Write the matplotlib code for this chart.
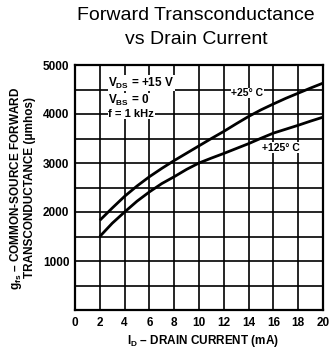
import matplotlib
matplotlib.use("Agg")
import matplotlib.pyplot as plt
import numpy as np

plt.rcParams['font.family'] = ['Liberation Sans', 'DejaVu Sans']
plt.rcParams['mathtext.fontset'] = 'custom'
plt.rcParams['mathtext.rm'] = 'Liberation Sans:bold'
plt.rcParams['mathtext.it'] = 'Liberation Sans:bold'
plt.rcParams['mathtext.bf'] = 'Liberation Sans:bold'

# Data
drain_current_ma = [2, 3, 4, 5, 6, 7, 8, 9, 10, 11, 12, 13, 14, 15, 16, 17, 18, 19, 20]
gfs_25c = [1830, 2080, 2320, 2530, 2720, 2890, 3050, 3200, 3350, 3500, 3645,
           3800, 3950, 4085, 4205, 4320, 4425, 4530, 4630]
gfs_125c = [1500, 1770, 2000, 2220, 2410, 2580, 2720, 2870, 3000, 3100, 3195,
            3295, 3395, 3505, 3610, 3690, 3770, 3855, 3935]
x_ticks = [0, 2, 4, 6, 8, 10, 12, 14, 16, 18, 20]
y_ticks = [1000, 2000, 3000, 4000, 5000]
curve_labels = ["+25° C", "+125° C"]

fig = plt.figure(figsize=(3.32, 3.51), dpi=100)
ax = fig.add_axes([75/332, 1-310/351, 248/332, 245/351])

ax.set_xlim(0, 20)
ax.set_ylim(0, 5000)
ax.set_xticks(x_ticks)
ygrid = np.arange(0, 5001, 500)
ax.set_yticks(ygrid)
ax.grid(True, color='black', linewidth=1.2)
ax.set_axisbelow(True)
ax.set_xticklabels([str(t) for t in x_ticks], fontweight='bold', fontsize=8.5)
ax.set_yticklabels([str(int(v)) if int(v) in y_ticks else '' for v in ygrid],
                   fontweight='bold', fontsize=8.5)
ax.tick_params(axis='y', length=0, pad=4)
ax.tick_params(axis='x', length=0, pad=5)
for s in ax.spines.values():
    s.set_linewidth(1.6)

ax.plot(drain_current_ma, gfs_25c, color='black', linewidth=2.0, solid_capstyle='butt')
ax.plot(drain_current_ma, gfs_125c, color='black', linewidth=2.0, solid_capstyle='butt')

box = dict(facecolor='white', edgecolor='none', pad=0.3)
ax.text(12.6, 4430, curve_labels[0], fontsize=7.5, fontweight='bold', va='center', ha='left', bbox=box)
ax.text(15.1, 3310, curve_labels[1], fontsize=7.5, fontweight='bold', va='center', ha='left', bbox=box)
ax.text(2.7, 4560, r"V$_{\mathrm{DS}}$ = +15 V", fontsize=8.5, va='baseline', ha='left', bbox=box, fontweight='bold')
ax.text(2.7, 4200, r"V$_{\mathrm{BS}}$ = 0", fontsize=8.5, va='baseline', ha='left', bbox=box, fontweight='bold')
ax.text(2.7, 3940, "f = 1 kHz", fontsize=8, va='baseline', ha='left', bbox=box, fontweight='bold')

fig.text(196/332, 1-16/351, "Forward Transconductance", ha='center', va='center', fontsize=14)
fig.text(196/332, 1-39/351, "vs Drain Current", ha='center', va='center', fontsize=14)

fig.text(16/332, 1-188/351, r"g$_{\mathrm{fs}}$ – COMMON-SOURCE FORWARD", rotation=90,
         ha='center', va='center', fontsize=8.5, fontweight='bold')
fig.text(30/332, 1-188/351, "TRANSCONDUCTANCE (μmhos)", rotation=90,
         ha='center', va='center', fontsize=8.5, fontweight='bold')
fig.text(203/332, 1-341/351, r"I$_{\mathrm{D}}$ – DRAIN CURRENT (mA)", ha='center', va='center',
         fontsize=8.5, fontweight='bold')

fig.savefig("out.png", dpi=100)
